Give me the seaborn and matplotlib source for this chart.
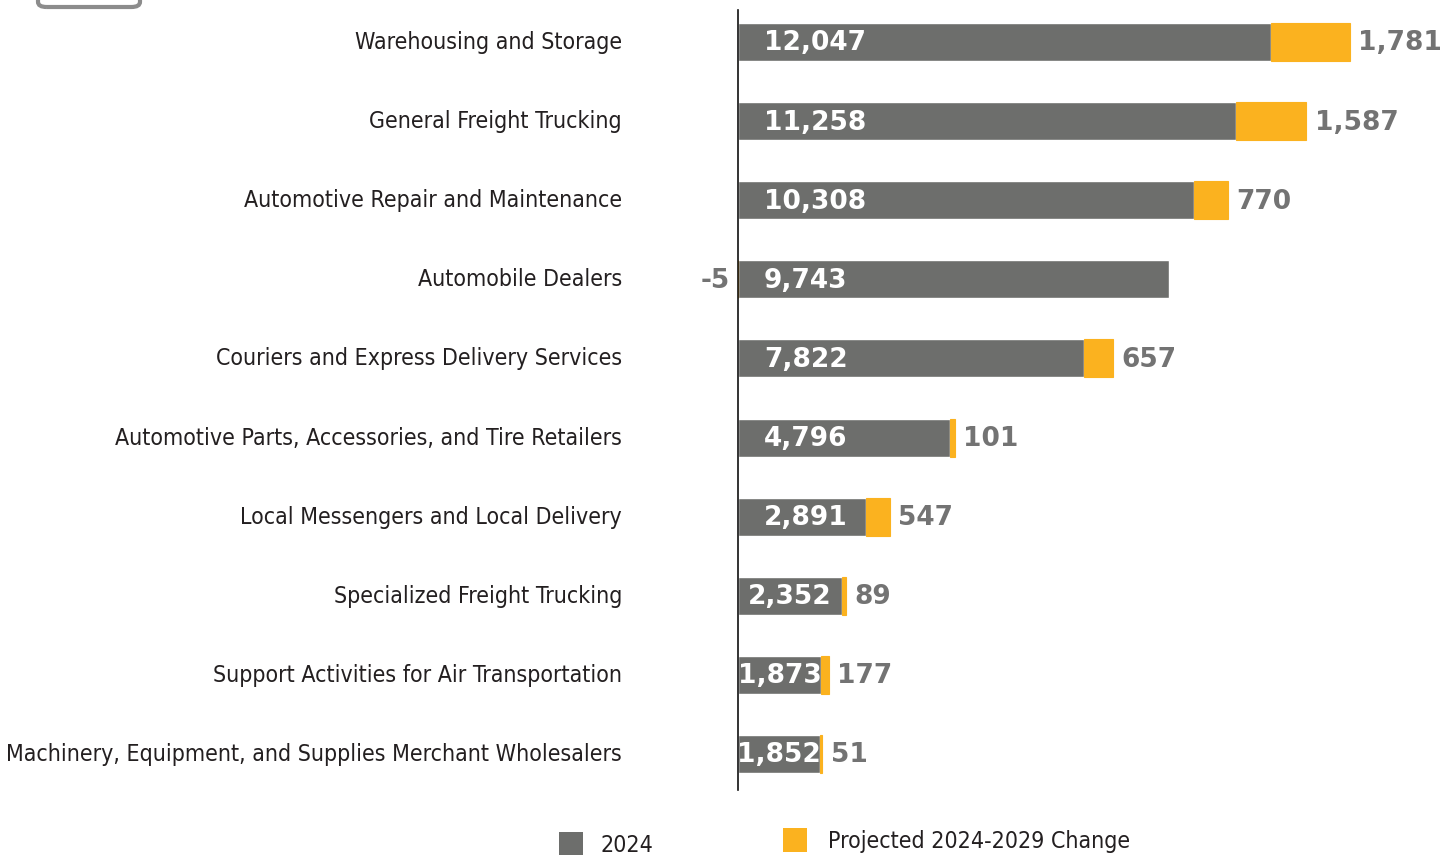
import matplotlib
matplotlib.use('Agg')
import matplotlib.pyplot as plt
import matplotlib.transforms as mtransforms
import seaborn as sns
from matplotlib.patches import Rectangle, FancyBboxPatch
from matplotlib import font_manager
from matplotlib.font_manager import FontProperties

# Data
categories = [
    'Warehousing and Storage',
    'General Freight Trucking',
    'Automotive Repair and Maintenance',
    'Automobile Dealers',
    'Couriers and Express Delivery Services',
    'Automotive Parts, Accessories, and Tire Retailers',
    'Local Messengers and Local Delivery',
    'Specialized Freight Trucking',
    'Support Activities for Air Transportation',
    'Machinery, Equipment, and Supplies Merchant Wholesalers',
]
jobs_2024 = [12047, 11258, 10308, 9743, 7822, 4796, 2891, 2352, 1873, 1852]
change_2024_2029 = [1781, 1587, 770, -5, 657, 101, 547, 89, 177, 51]
legend_labels = ['2024', 'Projected 2024-2029 Change']

GRAY = '#6d6e6c'
YELLOW = '#fbb21f'
LABEL_GRAY = '#737373'
TEXT_DARK = '#231f20'

# condensed sans face for the labels (DejaVu Sans Condensed if present)
cond = [f for f in font_manager.fontManager.ttflist
        if ('Condensed' in f.name or 'Narrow' in f.name or
            f.stretch in ('condensed', 'semi-condensed', 'extra-condensed'))
        and f.weight in (400, 'normal', 'regular', 'book') and f.style == 'normal']
if cond:
    label_fp = FontProperties(fname=cond[0].fname)
else:
    label_fp = FontProperties(family='Roboto')

sns.set_style('white')

fig = plt.figure(figsize=(14.43, 8.55), dpi=100)
ax = fig.add_axes([738 / 1443, 65 / 855, 705 / 1443, 780 / 855])

sns.barplot(x=jobs_2024, y=categories, orient='h', color=GRAY, saturation=1,
            width=0.48, ax=ax)

# stacked change bars (negative change drawn left of zero)
lefts = [b if c > 0 else 0 for b, c in zip(jobs_2024, change_2024_2029)]
ax.barh(range(len(categories)), change_2024_2029, left=lefts, height=0.48,
        color=YELLOW, edgecolor=YELLOW, linewidth=0.8, clip_on=False)

ax.set_xlim(0, 15936)
ax.set_ylim(9.455, -0.405)
ax.set_xticks([])
ax.set_xlabel('')
ax.set_ylabel('')
for s in ['top', 'right', 'bottom']:
    ax.spines[s].set_visible(False)
ax.spines['left'].set_color('#111111')
ax.spines['left'].set_linewidth(1.2)
ax.tick_params(axis='y', length=0, pad=83.5)
ax.set_yticks(range(len(categories)))

# scale the label font so "Warehousing and Storage" is ~266 px wide
fig.canvas.draw()
renderer = fig.canvas.get_renderer()
probe_fp = label_fp.copy()
probe_fp.set_size(18)
probe = fig.text(0, 0, categories[0], fontproperties=probe_fp)
w18 = probe.get_window_extent(renderer).width
probe.remove()
label_size = 18 * 266 / w18
label_fp.set_size(label_size)

ax.set_yticklabels(categories, color=TEXT_DARK, fontproperties=label_fp)
nudge = mtransforms.ScaledTranslation(0, 2 / 100, fig.dpi_scale_trans)
for lbl in ax.get_yticklabels():
    lbl.set_transform(lbl.get_transform() + nudge)

px_per_unit = ax.transData.transform((1, 0))[0] - ax.transData.transform((0, 0))[0]
NUM = dict(fontsize=19, fontweight='bold', family='DejaVu Sans')

# values inside the gray bars
for i, v in enumerate(jobs_2024):
    t = ax.annotate(f'{v:,}', xy=(0, i), xytext=(18.7, -1), textcoords='offset points',
                    ha='left', va='center', color='white', **NUM)
    w = t.get_window_extent(renderer).width
    if 26 + w > v * px_per_unit:
        t.remove()
        ax.annotate(f'{v:,}', xy=(v / 2, i), xytext=(0, -1), textcoords='offset points',
                    ha='center', va='center', color='white', **NUM)

# change labels beside the bars
for i, (b, c) in enumerate(zip(jobs_2024, change_2024_2029)):
    if c > 0:
        ax.annotate(f'{c:,}', xy=(b + c, i), xytext=(6, -1), textcoords='offset points',
                    ha='left', va='center', color=LABEL_GRAY, annotation_clip=False, **NUM)
    else:
        ax.annotate(f'{c:,}', xy=(c, i), xytext=(-6, -1), textcoords='offset points',
                    ha='right', va='center', color=LABEL_GRAY, annotation_clip=False, **NUM)

# legend drawn by hand in figure pixels
W, H = 1443, 855
for (sx, sy, tx, ty), color, lab in zip([(559, 832, 601, 845), (783, 828, 828, 841)],
                                        [GRAY, YELLOW], legend_labels):
    fig.patches.append(Rectangle((sx / W, 1 - (sy + 24) / H), 24 / W, 24 / H,
                                 transform=fig.transFigure, facecolor=color,
                                 edgecolor='none'))
    fig.text(tx / W, 1 - ty / H, lab, ha='left', va='center', color=TEXT_DARK,
             fontproperties=label_fp)

# partially visible box at the top-left corner
box = FancyBboxPatch((38 / W, 1 - 7 / H), 102 / W, 0.05,
                     boxstyle='round,pad=0,rounding_size=0.006',
                     transform=fig.transFigure, fill=False, edgecolor='#8c8c8c',
                     linewidth=3, clip_on=False)
fig.patches.append(box)

plt.savefig('out.png', dpi=100)
